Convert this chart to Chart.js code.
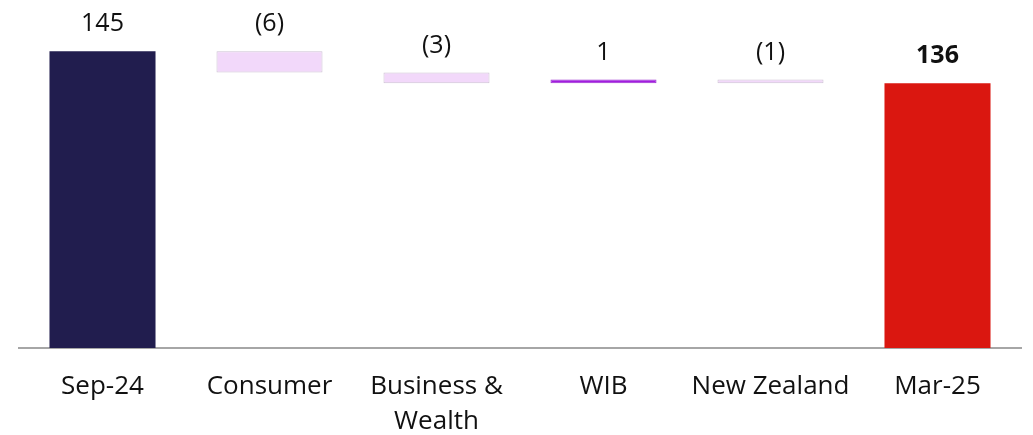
<!DOCTYPE html>
<html>
<head>
<meta charset="utf-8">
<script src="https://cdn.jsdelivr.net/npm/chart.js@4/dist/chart.umd.min.js"></script>
<style>
  html, body { margin: 0; padding: 0; background: #fff; }
  #wrap { width: 1033px; height: 435px; position: relative; }
</style>
</head>
<body>
<div id="wrap"><canvas id="waterfall"></canvas></div>
<script>
// waterfall data
const categories = ['Sep-24', 'Consumer', ['Business &', 'Wealth'], 'WIB', 'New Zealand', 'Mar-25'];
const changes = [145, -6, -3, 1, -1, 136];
const isTotal = [true, false, false, false, false, true];
const valueLabels = ['145', '(6)', '(3)', '1', '(1)', '136'];
const barColors = ['#211D4E', '#F2D8FA', '#F2D8FA', '#A21CDF', '#F2D8FA', '#DA1710'];
const borderColors = ['#211D4E', '#CDC2D4', '#CDC2D4', '#9A2FD0', '#CDC2D4', '#DA1710'];

const FONT = '"Open Sans", "Noto Sans", sans-serif';

// turn changes into floating [from, to] ranges
let running = 0;
const ranges = changes.map((v, i) => {
  if (isTotal[i]) { running = v; return [0, v]; }
  const from = running;
  running += v;
  return [from, running];
});

const valueLabelPlugin = {
  id: 'valueLabels',
  afterDatasetsDraw(chart) {
    const ctx = chart.ctx;
    const meta = chart.getDatasetMeta(0);
    ctx.save();
    ctx.textAlign = 'center';
    ctx.textBaseline = 'alphabetic';
    ctx.fillStyle = '#111';
    meta.data.forEach((bar, i) => {
      const top = Math.min(bar.y, bar.base);
      const bold = i === valueLabels.length - 1 ? 'bold ' : '';
      ctx.font = bold + '25px ' + FONT;
      ctx.fillText(valueLabels[i], bar.x, top - 20);
    });
    ctx.restore();
  }
};

new Chart(document.getElementById('waterfall'), {
  type: 'bar',
  data: {
    labels: categories,
    datasets: [{
      data: ranges,
      backgroundColor: barColors,
      borderColor: borderColors,
      borderWidth: [0, 1, 1, 1, 1, 0],
      borderSkipped: false,
      categoryPercentage: 1,
      barPercentage: 0.635,
      clip: 0
    }]
  },
  options: {
    responsive: true,
    maintainAspectRatio: false,
    animation: false,
    layout: { padding: { left: 19, right: 12, top: 0, bottom: 0 } },
    plugins: {
      legend: { display: false },
      tooltip: { enabled: false }
    },
    scales: {
      x: {
        grid: { display: false, drawTicks: false },
        border: { display: true, color: '#A6A6A6', width: 2 },
        ticks: {
          color: '#111',
          padding: 21,
          maxRotation: 0,
          autoSkip: false,
          font: { family: FONT, size: 26, lineHeight: 1.35 }
        },
        afterFit(scale) { scale.height = 87; }
      },
      y: {
        display: false,
        min: 61.5,
        max: 159.4,
        grid: { display: false }
      }
    }
  },
  plugins: [valueLabelPlugin]
});
</script>
</body>
</html>
